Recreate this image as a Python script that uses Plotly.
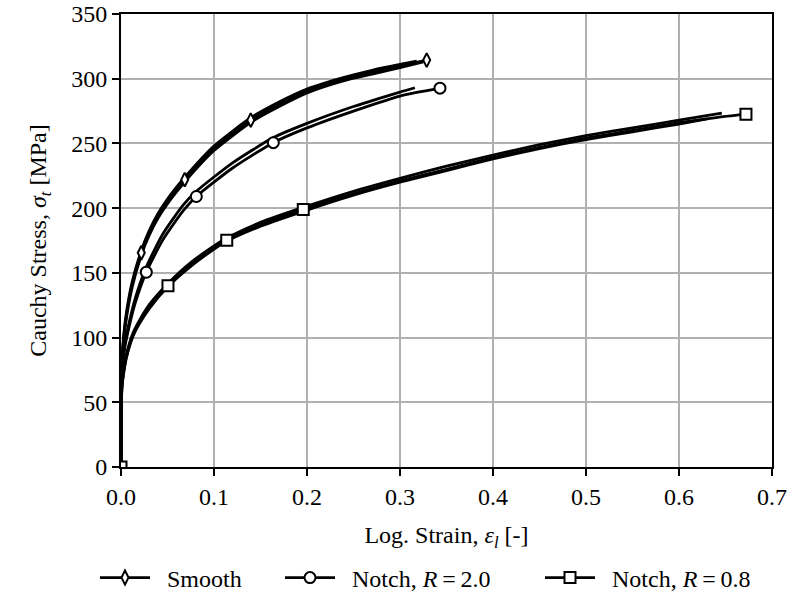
import plotly.graph_objects as go

# ---------------- data ----------------
# Smooth specimens (three tests)
smooth1_x = [0, 0.0003, 0.001, 0.002, 0.005, 0.012, 0.0218, 0.03, 0.04, 0.05, 0.0685, 0.1, 0.1395, 0.17, 0.2, 0.243, 0.27, 0.3, 0.3287]
smooth1_y = [0, 60, 80, 92, 113, 141, 165.5, 180, 194, 205, 222, 246, 268, 280, 290.5, 300, 305, 309.8, 314.4]
smooth2_x = [0, 0.0003, 0.001, 0.002, 0.005, 0.012, 0.022, 0.03, 0.04, 0.05, 0.07, 0.1, 0.14, 0.17, 0.2, 0.24, 0.27, 0.3, 0.318]
smooth2_y = [0, 62, 82, 94, 115, 143, 167.5, 182, 196, 207, 225, 248, 270, 282, 292, 301, 306.5, 311, 313.5]
smooth3_x = [0, 0.0003, 0.001, 0.002, 0.005, 0.012, 0.022, 0.03, 0.04, 0.05, 0.07, 0.1, 0.14, 0.17, 0.2, 0.24, 0.27, 0.3, 0.325]
smooth3_y = [0, 58, 78, 90, 111, 139, 164, 178.5, 192.5, 203.5, 221.5, 244.5, 266.5, 278.5, 289, 298.5, 303.5, 308.5, 313]

# Notched specimens, R = 2.0 (two tests)
notch20a_x = [0, 0.0003, 0.001, 0.004, 0.008, 0.015, 0.0272, 0.045, 0.067, 0.081, 0.12, 0.1638, 0.2, 0.25, 0.3, 0.343]
notch20a_y = [0, 50, 70, 92, 106, 126, 150.5, 175.5, 198, 209, 231, 250.6, 262, 275, 286.6, 292.7]
notch20b_x = [0, 0.0003, 0.001, 0.004, 0.008, 0.015, 0.0272, 0.045, 0.067, 0.081, 0.12, 0.1638, 0.2, 0.25, 0.3, 0.316]
notch20b_y = [0, 52, 72, 94, 109, 129.5, 154.5, 180, 202.5, 213, 235, 254.5, 265.5, 278.5, 289.7, 293]

# Notched specimens, R = 0.8 (three tests)
notch08a_x = [0, 0.0003, 0.001, 0.0022, 0.0054, 0.0129, 0.02, 0.0309, 0.0505, 0.075, 0.1137, 0.15, 0.196, 0.25, 0.3, 0.35, 0.4, 0.45, 0.5, 0.55, 0.6, 0.64, 0.672]
notch08a_y = [0, 45, 62, 70, 84, 102, 112, 124, 140, 156, 175.2, 187, 199, 211, 221, 230, 239, 247, 254, 260, 266, 270, 272.6]
notch08b_x = [0, 0.0003, 0.001, 0.0022, 0.0054, 0.0129, 0.02, 0.031, 0.05, 0.075, 0.11, 0.15, 0.2, 0.25, 0.3, 0.35, 0.4, 0.45, 0.5, 0.55, 0.6, 0.646]
notch08b_y = [0, 46, 63, 71.5, 85.5, 103.5, 113.5, 126, 141.5, 158, 175.5, 189, 201.5, 213, 223, 232.5, 241, 249, 256, 262, 268, 273.5]
notch08c_x = [0, 0.0003, 0.001, 0.0022, 0.0054, 0.0129, 0.02, 0.031, 0.05, 0.075, 0.11, 0.15, 0.2, 0.25, 0.3, 0.35, 0.4, 0.45, 0.5, 0.55, 0.6, 0.63]
notch08c_y = [0, 44, 61, 69, 83, 101, 111, 123, 139, 155, 173, 186, 198.5, 210, 220, 229, 238, 246, 253, 259, 265, 269]

# Marker positions on the representative curves
smooth_mx = [0.0218, 0.0685, 0.1395, 0.3287]
smooth_my = [165.5, 222, 268, 314.4]
notch20_mx = [0.0272, 0.081, 0.1638, 0.343]
notch20_my = [150.5, 209, 250.6, 292.7]
notch08_mx = [0, 0.0505, 0.1137, 0.196, 0.672]
notch08_my = [0, 140, 175.2, 199, 272.6]

legend_names = ["\u2002Smooth", "\u2002Notch, <i>R</i>\u2009=\u20092.0", "\u2002Notch, <i>R</i>\u2009=\u20090.8"]
legend_symbols = ["diamond-tall", "circle", "square"]

x_ticks = [0.0, 0.1, 0.2, 0.3, 0.4, 0.5, 0.6, 0.7]
y_ticks = [0, 50, 100, 150, 200, 250, 300, 350]

# ---------------- figure ----------------
FONT = "Liberation Serif, Times New Roman, serif"
FS = 24
LW = 2.8
fig = go.Figure()

curves = [
    (smooth1_x, smooth1_y), (smooth2_x, smooth2_y), (smooth3_x, smooth3_y),
    (notch20a_x, notch20a_y), (notch20b_x, notch20b_y),
    (notch08a_x, notch08a_y), (notch08b_x, notch08b_y), (notch08c_x, notch08c_y),
]
for cx, cy in curves:
    fig.add_trace(go.Scatter(
        x=cx, y=cy, mode="lines",
        line=dict(color="black", width=LW, shape="spline", smoothing=0.6),
        showlegend=False, hoverinfo="skip"))

marker_sets = [
    (smooth_mx, smooth_my, "diamond-tall", 10),
    (notch20_mx, notch20_my, "circle", 11),
    (notch08_mx, notch08_my, "square", 11),
]
for mx, my, sym, sz in marker_sets:
    fig.add_trace(go.Scatter(
        x=mx, y=my, mode="markers",
        marker=dict(symbol=sym, size=sz, color="white",
                    line=dict(color="black", width=2)),
        showlegend=False, cliponaxis=True))

legend_ids = ["legend", "legend2", "legend3"]
for name, sym, sz, lid in zip(legend_names, legend_symbols, [10, 11, 11], legend_ids):
    fig.add_trace(go.Scatter(
        x=[None], y=[None], mode="lines+markers", name=name, legend=lid,
        line=dict(color="black", width=LW),
        marker=dict(symbol=sym, size=sz, color="white",
                    line=dict(color="black", width=2))))

axis_common = dict(
    showline=True, linecolor="black", linewidth=1.8, mirror=True,
    ticks="outside", ticklen=7, tickwidth=1.5, tickcolor="black",
    showgrid=True, gridcolor="#b0b0b0", gridwidth=1.5,
    zeroline=False,
    tickfont=dict(family=FONT, size=FS, color="black"),
)

fig.update_xaxes(
    range=[0, 0.7], tickvals=x_ticks, tickformat=".1f",
    title=dict(text="Log. Strain, <i>ε</i><sub><i>l</i></sub> [-]",
               font=dict(family=FONT, size=FS, color="black"), standoff=17),
    **axis_common)
fig.update_yaxes(
    range=[0, 350], tickvals=y_ticks,
    title=dict(text="Cauchy Stress, <i>σ</i><sub><i>t</i></sub> [MPa]",
               font=dict(family=FONT, size=FS, color="black"), standoff=18),
    **axis_common)

PW = 792 - 121 - 20
def px2paper(px):
    return (px - 121) / PW

leg_common = dict(orientation="h", yanchor="middle", y=-0.245, xanchor="left",
                  font=dict(family=FONT, size=FS), itemwidth=50,
                  bgcolor="rgba(0,0,0,0)", borderwidth=0)

fig.update_layout(
    width=792, height=594,
    margin=dict(l=121, r=20, t=14, b=127, autoexpand=False),
    plot_bgcolor="white", paper_bgcolor="white",
    font=dict(family=FONT, size=FS, color="black"),
    legend=dict(x=px2paper(95), **leg_common),
    legend2=dict(x=px2paper(280), **leg_common),
    legend3=dict(x=px2paper(540), **leg_common),
)

fig.write_html("out.html")
